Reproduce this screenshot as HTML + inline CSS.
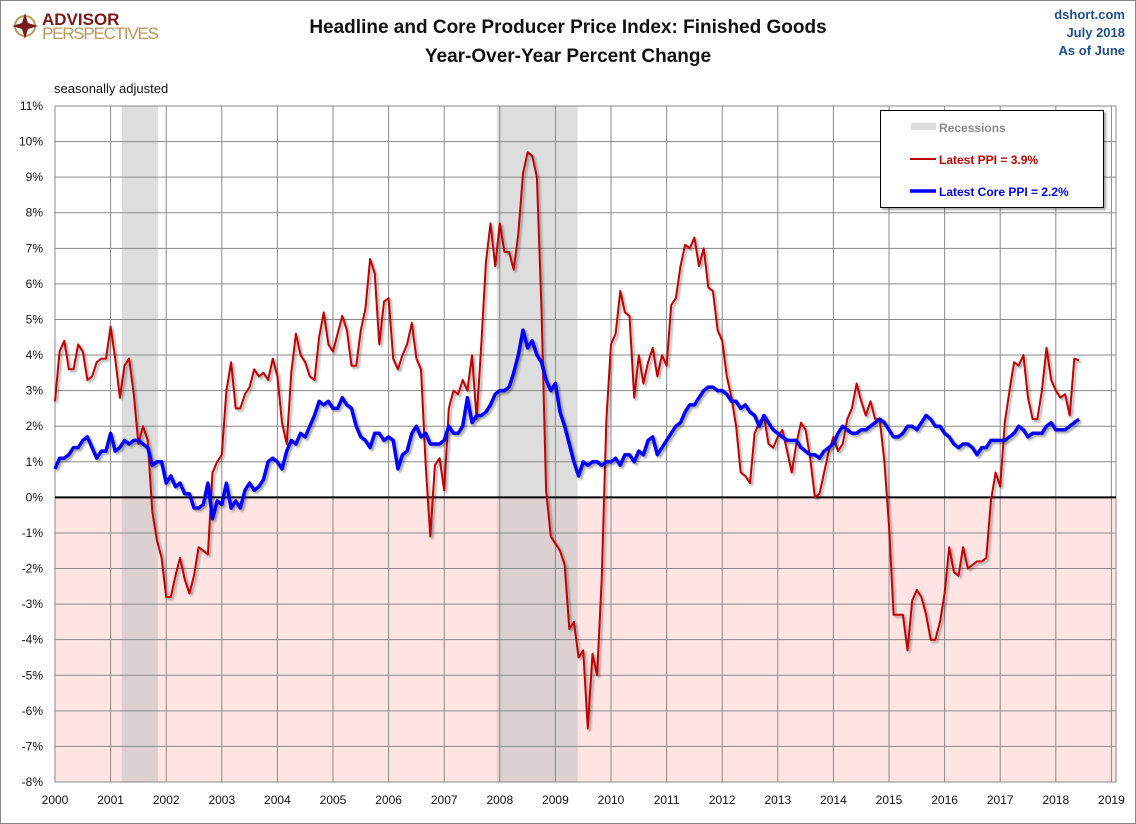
<!DOCTYPE html>
<html><head><meta charset="utf-8"><style>
html,body{margin:0;padding:0;background:#fff}
svg{display:block;font-family:"Liberation Sans",sans-serif}
</style></head><body>
<svg id="c" width="1136" height="824" viewBox="0 0 1136 824">
<defs><filter id="sh" x="-5%" y="-5%" width="110%" height="110%"><feDropShadow dx="2" dy="2" stdDeviation="1" flood-color="#000" flood-opacity="0.35"/></filter></defs>
<rect x="0.5" y="0.5" width="1135" height="823" fill="#fff" stroke="#888"/>
<g>
<circle cx="25" cy="26" r="10" fill="none" stroke="#b8995a" stroke-width="2"/>
<path d="M25 13 L28 23 L38 26 L28 29 L25 39 L22 29 L12 26 L22 23Z" fill="#7a1a1a"/>
<text x="42" y="25" font-size="17" font-weight="bold" fill="#7a1a1a">ADVISOR</text>
<text x="42" y="39" font-size="17" fill="#b8995a" textLength="117">PERSPECTIVES</text>
</g>
<text x="568" y="33" text-anchor="middle" font-size="19" font-weight="bold" fill="#111">Headline and Core Producer Price Index: Finished Goods</text>
<text x="568" y="62" text-anchor="middle" font-size="19" font-weight="bold" fill="#111">Year-Over-Year Percent Change</text>
<g font-size="13" font-weight="bold" fill="#1f4e8c" text-anchor="end">
<text x="1125" y="19">dshort.com</text><text x="1125" y="37">July 2018</text><text x="1125" y="55">As of June</text></g>
<text x="54" y="93" font-size="13" fill="#111">seasonally adjusted</text>
<g id="plot"></g>
<g filter="url(#sh)">
<rect x="880.5" y="110.5" width="223" height="97" fill="#fff" stroke="#000"/>
</g>
<g font-size="12" font-weight="bold">
<rect x="911" y="123" width="25" height="7" fill="#ddd"/>
<text x="939" y="132" fill="#888">Recessions</text>
<line x1="910" y1="159" x2="936" y2="159" stroke="#c00000" stroke-width="2"/>
<text x="939" y="164" fill="#c00000">Latest PPI = 3.9%</text>
<line x1="910" y1="191" x2="936" y2="191" stroke="#0000ff" stroke-width="3.5"/>
<text x="939" y="196" fill="#0000ff">Latest Core PPI = 2.2%</text>
</g>
</svg>
<script>
const headline=[2.7,4.1,4.4,3.6,3.6,4.3,4.1,3.3,3.4,3.8,3.9,3.9,
4.8,3.9,2.8,3.7,3.9,2.9,1.5,2.0,1.6,-0.4,-1.2,-1.7,
-2.8,-2.8,-2.2,-1.7,-2.3,-2.7,-2.2,-1.4,-1.5,-1.6,0.7,1.0,
1.2,3.0,3.8,2.5,2.5,2.9,3.1,3.6,3.4,3.5,3.3,3.9,
3.4,2.1,1.5,3.5,4.6,4.0,3.8,3.4,3.3,4.5,5.2,4.3,
4.1,4.6,5.1,4.7,3.7,3.7,4.7,5.3,6.7,6.3,4.3,5.5,
5.6,3.9,3.6,4.0,4.3,4.9,3.9,3.6,0.9,-1.1,0.9,1.1,
0.2,2.5,3.0,2.9,3.3,3.0,4.0,2.2,4.3,6.6,7.7,6.5,
7.7,6.9,6.9,6.4,7.4,9.1,9.7,9.6,9.0,5.3,0.2,-1.1,
-1.3,-1.5,-1.9,-3.7,-3.5,-4.5,-4.3,-6.5,-4.4,-5.0,-2.3,2.2,
4.3,4.6,5.8,5.2,5.1,2.8,4.0,3.2,3.8,4.2,3.4,4.0,
3.7,5.4,5.6,6.5,7.1,7.0,7.3,6.5,7.0,5.9,5.8,4.7,
4.4,3.4,2.8,2.0,0.7,0.6,0.4,1.8,2.1,2.3,1.5,1.4,
1.7,1.9,1.3,0.7,1.5,2.1,1.9,1.1,0.0,0.1,0.7,1.3,
1.7,1.3,1.5,2.2,2.5,3.2,2.7,2.3,2.7,2.2,2.2,1.0,
-0.8,-3.3,-3.3,-3.3,-4.3,-2.9,-2.6,-2.8,-3.3,-4.0,-4.0,-3.5,
-2.7,-1.4,-2.1,-2.2,-1.4,-2.0,-1.9,-1.8,-1.8,-1.7,-0.1,0.7,
0.3,2.1,3.0,3.8,3.7,4.0,2.8,2.2,2.2,3.0,4.2,3.3,
3.0,2.8,2.9,2.3,3.9,3.85];
const core=[0.8,1.1,1.1,1.2,1.4,1.4,1.6,1.7,1.4,1.1,1.3,1.3,
1.8,1.3,1.4,1.6,1.5,1.6,1.6,1.5,1.4,0.9,1.0,1.0,
0.4,0.6,0.3,0.4,0.1,0.1,-0.3,-0.3,-0.2,0.4,-0.6,-0.1,
-0.2,0.4,-0.3,-0.1,-0.3,0.2,0.4,0.2,0.3,0.5,1.0,1.1,
1.0,0.8,1.3,1.6,1.5,1.8,1.7,2.0,2.3,2.7,2.6,2.7,
2.5,2.5,2.8,2.6,2.5,2.0,1.7,1.6,1.4,1.8,1.8,1.6,
1.7,1.6,0.8,1.2,1.3,1.8,2.0,1.7,1.8,1.5,1.5,1.5,
1.6,2.0,1.8,1.8,2.0,2.8,2.1,2.3,2.3,2.4,2.6,2.9,
3.0,3.0,3.1,3.5,4.0,4.7,4.2,4.4,4.0,3.8,3.3,3.0,
3.2,2.4,2.0,1.5,1.0,0.6,1.0,0.9,1.0,1.0,0.9,1.0,
1.0,1.1,0.9,1.2,1.2,1.0,1.3,1.2,1.6,1.7,1.2,1.4,
1.6,1.8,2.0,2.1,2.4,2.6,2.6,2.8,3.0,3.1,3.1,3.0,
3.0,2.9,2.7,2.7,2.5,2.6,2.4,2.3,2.0,2.3,2.1,1.9,
1.8,1.7,1.6,1.6,1.6,1.4,1.3,1.2,1.2,1.1,1.3,1.4,
1.5,1.8,2.0,1.9,1.8,1.8,1.9,1.9,2.0,2.1,2.2,2.1,
1.9,1.7,1.7,1.8,2.0,2.0,1.9,2.1,2.3,2.2,2.0,2.0,
1.8,1.7,1.5,1.4,1.5,1.5,1.4,1.2,1.4,1.4,1.6,1.6,
1.6,1.6,1.7,1.8,2.0,1.9,1.7,1.8,1.8,1.8,2.0,2.1,
1.9,1.9,1.9,2.0,2.1,2.2];
const startYear=2000;
const yearTicks=[2000,2001,2002,2003,2004,2005,2006,2007,2008,2009,2010,2011,2012,2013,2014,2015,2016,2017,2018,2019];
const pctTicks=[11,10,9,8,7,6,5,4,3,2,1,0,-1,-2,-3,-4,-5,-6,-7,-8];
const recessionStarts=[2001.2,2007.95];
const recessionEnds=[2001.85,2009.4];

const L=55,R=1116,T=106,B=782,yMin=-8,yMax=11;
const X=t=>L+(t-2000)*55.6;
const Y=v=>T+(yMax-v)/(yMax-yMin)*(B-T);
const NS='http://www.w3.org/2000/svg';
const g=document.getElementById('plot');
function mk(tag,attrs){const e=document.createElementNS(NS,tag);for(const k in attrs)e.setAttribute(k,attrs[k]);g.appendChild(e);return e;}
let e=mk('rect',{x:L,y:T,width:R-L,height:B-T,fill:'#fff'});


e=mk('rect',{x:L,y:Y(0),width:R-L,height:B-Y(0),fill:'#ffe4e4'});


for(let i=0;i<recessionStarts.length;i++){
 e=mk('rect',{x:X(recessionStarts[i]),y:T,width:X(recessionEnds[i])-X(recessionStarts[i]),height:B-T,fill:'#bbb','fill-opacity':0.5});
 
 
}
pctTicks.forEach(v=>{
 e=mk('line',{x1:L,x2:R,y1:Y(v),y2:Y(v),stroke:'#8a8a8a','stroke-width':1});
 
 
 e=mk('text',{x:43,y:Y(v)+4,'text-anchor':'end','font-size':12,fill:'#111'});
 e.textContent=v+'%';
 
 
});
yearTicks.forEach(yr=>{
 if(yr>2000){e=mk('line',{x1:X(yr),x2:X(yr),y1:T,y2:B,stroke:'#8a8a8a','stroke-width':1});
 
 }
 e=mk('text',{x:X(yr),y:804,'text-anchor':'middle','font-size':12,fill:'#111'});
 e.textContent=yr;
 
 
});
e=mk('rect',{x:L,y:T,width:R-L,height:B-T,fill:'none',stroke:'#8a8a8a'});


e=mk('line',{x1:L,x2:R,y1:Y(0),y2:Y(0),stroke:'#000','stroke-width':2});


function path(arr){return arr.map((v,i)=>(i?'L':'M')+X(startYear+i/12).toFixed(1)+' '+Y(v).toFixed(1)).join(' ');}
e=mk('path',{d:path(headline),fill:'none',stroke:'#c00000','stroke-width':2,'stroke-linejoin':'round',filter:'url(#sh)'});


e=mk('path',{d:path(core),fill:'none',stroke:'#0000ff','stroke-width':3.5,'stroke-linejoin':'round',filter:'url(#sh)'});


</script>
</body></html>
